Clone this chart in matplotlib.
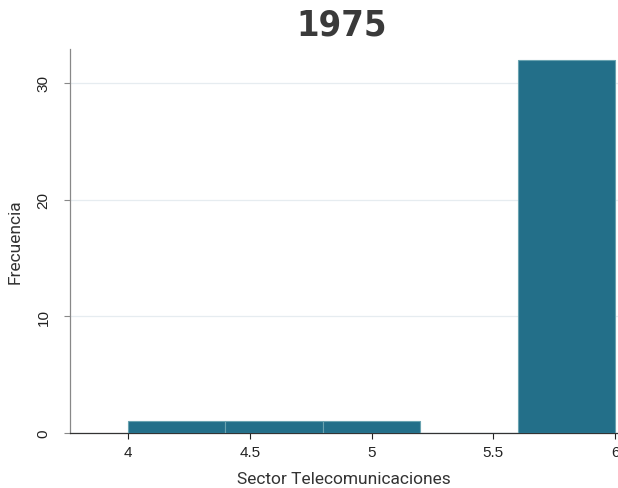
import matplotlib
matplotlib.use("Agg")
import matplotlib.pyplot as plt
from matplotlib import font_manager

# histogram bins (left edges) and their counts
bin_left = [4.0, 4.4, 4.8, 5.2, 5.6]
bin_width = 0.4
counts = [1, 1, 1, 0, 32]
xticks = [4, 4.5, 5, 5.5, 6]
xtick_labels = ["4", "4.5", "5", "5.5", "6"]
yticks = [0, 10, 20, 30]

plt.rcParams["font.family"] = ["Roboto", "DejaVu Sans"]

fig = plt.figure(figsize=(6.18, 4.89), dpi=100)
ax = fig.add_axes([70 / 618, 1 - 434 / 489, 548 / 618, 384 / 489])

ax.bar(bin_left, counts, width=bin_width, align="edge",
       color="#236f89", edgecolor="#6aa3b0", linewidth=0.8, zorder=3)

ax.set_xlim(3.762, 6.012)
ax.set_ylim(0, 32.9)
ax.set_xticks(xticks)
ax.set_xticklabels(xtick_labels)
ax.set_yticks(yticks)
for lab in ax.get_xticklabels() + ax.get_yticklabels():
    lab.set_family(["Liberation Sans", "DejaVu Sans"])
for lab in ax.get_yticklabels():
    lab.set_rotation(90)
    lab.set_va("center")
ax.tick_params(axis="both", labelsize=11, colors="#222222", length=4, width=0.8)
ax.tick_params(axis="y", colors="#888888", labelcolor="#222222", pad=10)
ax.tick_params(axis="x", pad=5)

ax.grid(axis="y", color="#e6ecf0", linewidth=0.9, zorder=0)
ax.set_axisbelow(True)
for side in ("top", "right"):
    ax.spines[side].set_visible(False)
ax.spines["left"].set_color("#888888")
ax.spines["bottom"].set_color("#333333")
ax.spines["left"].set_linewidth(0.9)
ax.spines["bottom"].set_linewidth(0.9)

ax.set_xlabel("Sector Telecomunicaciones", fontsize=12.5, color="#333333", labelpad=8)
ax.set_ylabel("Frecuencia", fontsize=12.5, color="#333333", labelpad=10)

fig.text(0.553, 0.947, "1975", ha="center", va="center", fontsize=26,
         fontweight="bold", fontstretch="condensed", color="#3a3a3a",
         family=["DejaVu Sans"])

fig.savefig("out.png", dpi=100)
